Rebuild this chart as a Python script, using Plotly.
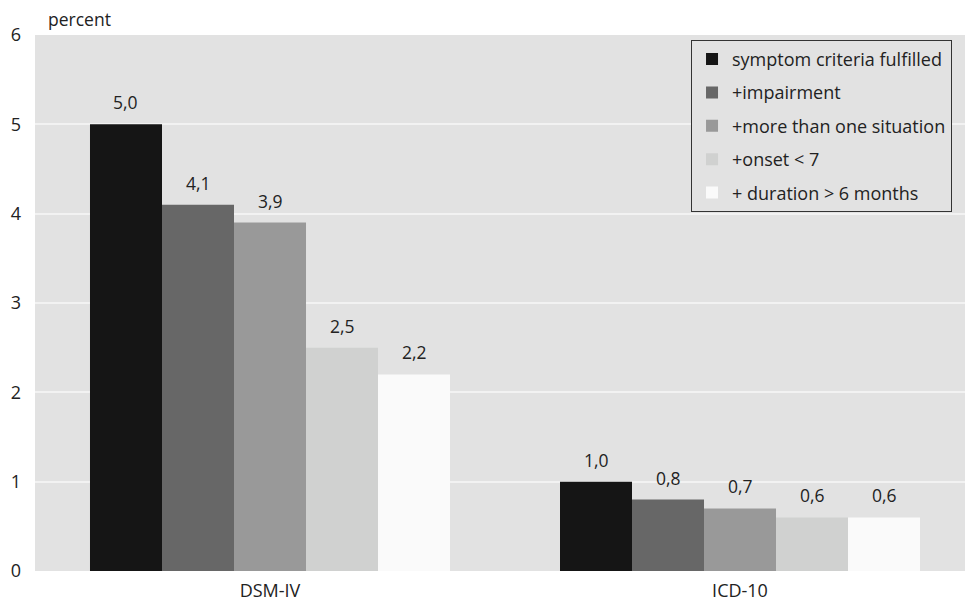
import plotly.graph_objects as go

categories = ["DSM-IV", "ICD-10"]
series_names = [
    "symptom criteria fulfilled",
    "+impairment",
    "+more than one situation",
    "+onset < 7",
    "+ duration > 6 months",
]
series_values = [
    [5.0, 1.0],
    [4.1, 0.8],
    [3.9, 0.7],
    [2.5, 0.6],
    [2.2, 0.6],
]
series_colors = ["#151515", "#676767", "#999999", "#d0d1d0", "#fafafa"]
y_ticks = [0, 1, 2, 3, 4, 5, 6]

FONT = "Open Sans"
TXT = "#222222"
BARGAP = 0.234
n = len(series_names)

fig = go.Figure()
annotations = []
group_w = 1 - BARGAP
bar_w = group_w / n
for i, (name, vals, col) in enumerate(zip(series_names, series_values, series_colors)):
    fig.add_trace(go.Bar(
        name=name,
        x=categories,
        y=vals,
        marker=dict(color=col, line=dict(width=0)),
        legendgroup=f"g{i}",
    ))
    off = -group_w / 2 + (i + 0.5) * bar_w
    for ci, v in enumerate(vals):
        annotations.append(dict(
            x=ci + off, y=v, xref="x", yref="y",
            text=f"{v:.1f}".replace(".", ","),
            showarrow=False, xanchor="center", yanchor="bottom", yshift=8,
            font=dict(family=FONT, size=17.5, color=TXT),
        ))

annotations.append(dict(
    text="percent",
    xref="paper", yref="paper",
    x=0, y=1, xanchor="left", yanchor="bottom",
    xshift=11, yshift=2,
    showarrow=False,
    font=dict(family=FONT, size=17.5, color=TXT),
))

fig.update_layout(
    width=957,
    height=594,
    margin=dict(l=27, r=0, t=27, b=27),
    paper_bgcolor="white",
    plot_bgcolor="#e2e2e2",
    barmode="group",
    bargap=BARGAP,
    bargroupgap=0,
    font=dict(family=FONT, size=17.5, color=TXT),
    showlegend=True,
    legend=dict(
        x=0.7054, y=0.991, xanchor="left", yanchor="top",
        bgcolor="#e2e2e2",
        bordercolor="#333333",
        borderwidth=1,
        font=dict(family=FONT, size=18, color=TXT),
        tracegroupgap=7,
        traceorder="grouped",
    ),
    xaxis=dict(
        type="category",
        range=[-0.5, 1.4787],
        showgrid=False,
        ticks="",
        tickfont=dict(family=FONT, size=18, color=TXT),
        ticklabelstandoff=7,
        showline=False,
    ),
    yaxis=dict(
        range=[0, 6],
        tickvals=y_ticks,
        ticktext=[str(t) for t in y_ticks],
        showgrid=True,
        gridcolor="#f2f2f2",
        gridwidth=2,
        zeroline=False,
        ticks="",
        tickfont=dict(family=FONT, size=18, color=TXT),
        ticklabelstandoff=13,
        showline=False,
    ),
    annotations=annotations,
)

fig.write_html("out.html")
